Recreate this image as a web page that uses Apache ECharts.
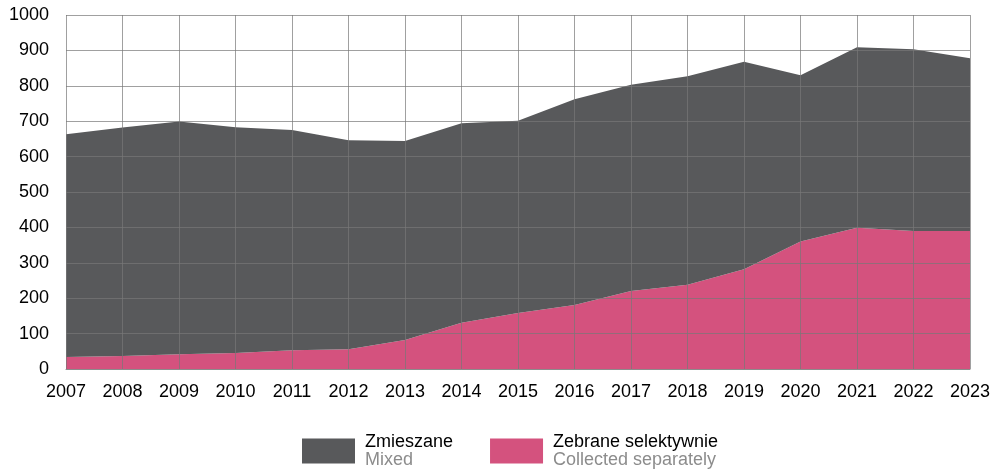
<!DOCTYPE html>
<html>
<head>
<meta charset="utf-8">
<script src="https://cdn.jsdelivr.net/npm/echarts@6/dist/echarts.min.js"></script>
<style>
    html, body { margin: 0; padding: 0; background: #fff; }
    #chart { width: 994px; height: 469px; }
</style>
</head>
<body>
<div id="chart"></div>
<script>
    const years = ['2007', '2008', '2009', '2010', '2011', '2012', '2013', '2014', '2015',
        '2016', '2017', '2018', '2019', '2020', '2021', '2022', '2023']
    // selectively collected (bottom layer)
    const selective = [34, 37, 42, 45, 53, 56, 82, 131, 158, 181, 220, 238, 282, 360, 399, 390, 390]
    // mixed (stacked on top)
    const mixed = [629, 645, 657, 638, 622, 590, 562, 563, 543, 581, 583, 589, 586, 470, 510, 513, 488]
    const yTicks = [0, 100, 200, 300, 400, 500, 600, 700, 800, 900, 1000]

    const names = {
        'Zmieszane': 'Mixed',
        'Zebrane selektywnie': 'Collected separately'
    }

    const gridLine = 'rgba(119,119,119,0.7)'
    const font = '"Liberation Sans", Arial, sans-serif'

    const chart = echarts.init(document.getElementById('chart'), null, {renderer: 'canvas'})

    const option = {
        animation: false,
        textStyle: {fontFamily: font},
        grid: {left: 66, right: 24, top: 15, bottom: 100, containLabel: false},
        legend: {
            data: ['Zmieszane', 'Zebrane selektywnie'],
            left: 302,
            top: 433,
            padding: 0,
            itemWidth: 53,
            itemHeight: 25,
            itemGap: 37,
            icon: 'rect',
            selectedMode: false,
            formatter: function (name) {
                return '{a|' + name + '}\n{b|' + names[name] + '}'
            },
            textStyle: {
                padding: [0, 0, 0, 5],
                rich: {
                    a: {fontSize: 18, color: '#000', fontFamily: font, lineHeight: 18},
                    b: {fontSize: 18, color: '#8c8c8c', fontFamily: font, lineHeight: 18}
                }
            }
        },
        xAxis: {
            type: 'category',
            data: years,
            boundaryGap: false,
            z: 5,
            axisLine: {lineStyle: {color: '#8c8c8c', width: 1}},
            axisTick: {show: false},
            axisLabel: {
                color: '#000',
                fontSize: 18,
                margin: 14,
                interval: 0,
                fontFamily: font
            },
            splitLine: {show: true, lineStyle: {color: gridLine, width: 1}}
        },
        yAxis: {
            type: 'value',
            min: 0,
            max: 1000,
            interval: 100,
            z: 5,
            axisLine: {show: false},
            axisTick: {show: false},
            axisLabel: {
                color: '#000',
                fontSize: 18,
                margin: 17,
                fontFamily: font,
                formatter: function (v) {
                    return yTicks.indexOf(v) > -1 ? String(v) : ''
                }
            },
            splitLine: {show: true, lineStyle: {color: gridLine, width: 1}}
        },
        series: [
            {
                name: 'Zebrane selektywnie',
                type: 'line',
                stack: 'total',
                data: selective,
                showSymbol: false,
                silent: true,
                lineStyle: {width: 0},
                itemStyle: {color: '#d4527e'},
                areaStyle: {color: '#d4527e', opacity: 1}
            },
            {
                name: 'Zmieszane',
                type: 'line',
                stack: 'total',
                data: mixed,
                showSymbol: false,
                silent: true,
                lineStyle: {width: 0},
                itemStyle: {color: '#58595b'},
                areaStyle: {color: '#58595b', opacity: 1}
            }
        ]
    }

    chart.setOption(option)
</script>
</body>
</html>
